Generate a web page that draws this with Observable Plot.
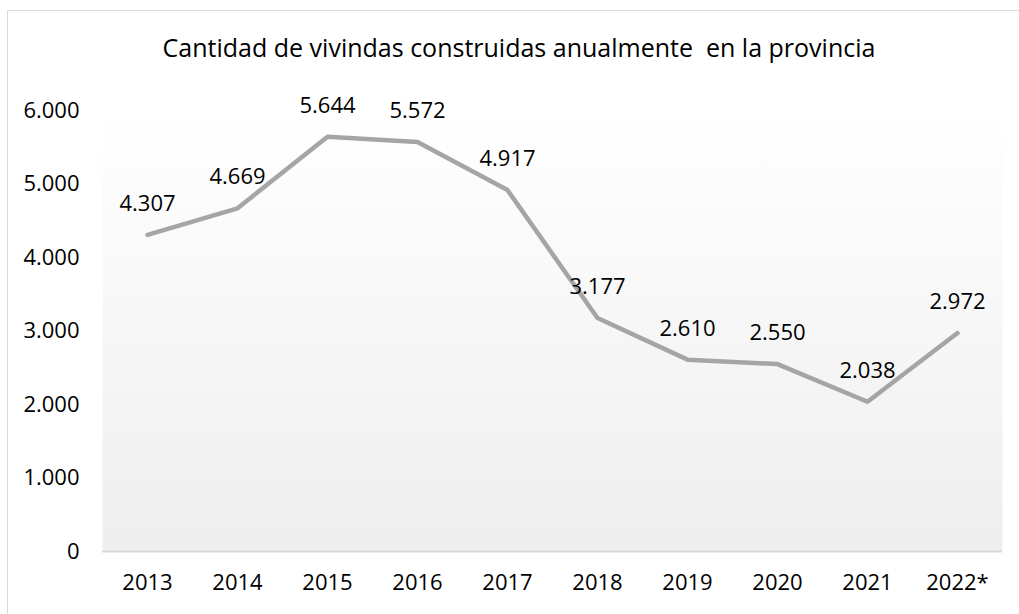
<!DOCTYPE html>
<html>
<head>
<meta charset="utf-8">
<script src="https://cdn.jsdelivr.net/npm/d3@7"></script>
<script src="https://cdn.jsdelivr.net/npm/@observablehq/plot@0.6"></script>
<style>
  html, body { margin: 0; padding: 0; background: #fff; width: 1019px; height: 614px; overflow: hidden; position: relative; }
  #frame { position: absolute; left: 7px; top: 10px; width: 1100px; height: 700px; border: 1.5px solid #d9d9d9; box-sizing: border-box; }
  #title { position: absolute; left: 7px; top: 31px; width: 1024px; text-align: center; font-family: "Open Sans", sans-serif; font-size: 25px; line-height: 33px; color: #000; white-space: pre; }
  #chart { position: absolute; left: 0; top: 0; }
</style>
</head>
<body>
<div id="frame"></div>
<div id="chart"></div>
<div id="title">Cantidad de vivindas construidas anualmente  en la provincia</div>
<script>
const years = ["2013", "2014", "2015", "2016", "2017", "2018", "2019", "2020", "2021", "2022*"];
const values = [4307, 4669, 5644, 5572, 4917, 3177, 2610, 2550, 2038, 2972];
const yTicks = [0, 1000, 2000, 3000, 4000, 5000, 6000];

const data = years.map((year, i) => ({year, value: values[i]}));
const locale = d3.formatLocale({decimal: ",", thousands: ".", grouping: [3], currency: ["$", ""]});
const fmt = locale.format(",");

const gradient = () => {
  const defs = d3.create("svg:defs");
  const lg = defs.append("linearGradient").attr("id", "plotgrad")
    .attr("x1", 0).attr("y1", 0).attr("x2", 0).attr("y2", 1);
  lg.append("stop").attr("offset", "0%").attr("stop-color", "#ffffff");
  lg.append("stop").attr("offset", "100%").attr("stop-color", "#eeeeee");
  return defs.node();
};

const chart = Plot.plot({
  width: 1019,
  height: 614,
  marginLeft: 102,
  marginRight: 17,
  marginTop: 110,
  marginBottom: 63,
  style: {fontFamily: "'Open Sans', sans-serif", fontSize: "22px", color: "#000", background: "transparent", overflow: "visible"},
  x: {type: "point", domain: years, padding: 0.5, label: null},
  y: {domain: [0, 6000], label: null},
  marks: [
    gradient,
    Plot.frame({fill: "url(#plotgrad)", stroke: "none"}),
    Plot.ruleY([0], {stroke: "#d9d9d9", strokeWidth: 2}),
    Plot.axisY({ticks: yTicks, tickSize: 0, tickPadding: 23, tickFormat: fmt, fontSize: 22, label: null, fill: "#000"}),
    Plot.axisX({tickSize: 0, tickPadding: 23, fontSize: 22, label: null, fill: "#000"}),
    Plot.lineY(data, {x: "year", y: "value", stroke: "#a5a5a5", strokeWidth: 4.5, strokeLinejoin: "round"}),
    Plot.text(data, {x: "year", y: "value", text: d => fmt(d.value), dy: -31, fontSize: 22, fill: "#000"})
  ]
});
document.getElementById("chart").appendChild(chart);
</script>
</body>
</html>
